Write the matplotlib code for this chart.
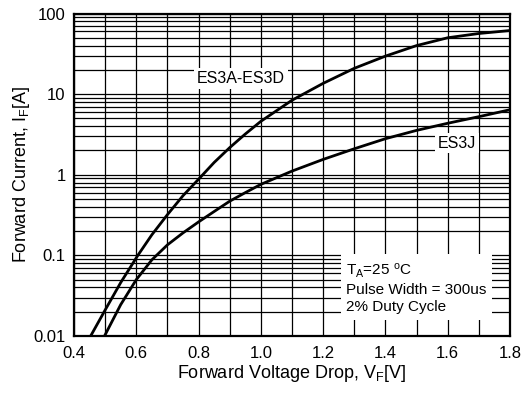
import matplotlib
matplotlib.use("Agg")
import matplotlib.pyplot as plt
import numpy as np
from matplotlib.ticker import LogLocator, FixedLocator, NullFormatter

plt.rcParams['font.family'] = ['Liberation Sans', 'DejaVu Sans']
plt.rcParams['mathtext.fontset'] = 'custom'
plt.rcParams['mathtext.rm'] = 'Liberation Sans'
plt.rcParams['mathtext.it'] = 'Liberation Sans'

# Data
vf_a = [0.4535, 0.5, 0.55, 0.605, 0.65, 0.7, 0.75, 0.8, 0.85, 0.9,
        0.95, 1.0, 1.1, 1.2, 1.3, 1.4, 1.5, 1.6, 1.7, 1.8]
if_a = [0.01, 0.021, 0.046, 0.1, 0.18, 0.32, 0.55, 0.88, 1.42, 2.17,
        3.2, 4.6, 8.4, 13.6, 20.9, 29.6, 40.0, 50.0, 56.5, 61.5]
vf_j = [0.498, 0.55, 0.6, 0.65, 0.7, 0.75, 0.8, 0.85, 0.9, 0.95, 1.0,
        1.1, 1.2, 1.3, 1.4, 1.5, 1.6, 1.7, 1.8]
if_j = [0.01, 0.0245, 0.05, 0.088, 0.135, 0.19, 0.26, 0.35, 0.47, 0.6, 0.76,
        1.11, 1.55, 2.1, 2.8, 3.55, 4.35, 5.25, 6.4]
xticks = [0.4, 0.6, 0.8, 1.0, 1.2, 1.4, 1.6, 1.8]
xtick_labels = ['0.4', '0.6', '0.8', '1.0', '1.2', '1.4', '1.6', '1.8']
yticks = [0.01, 0.1, 1, 10, 100]
ytick_labels = ['0.01', '0.1', '1', '10', '100']

fig = plt.figure(figsize=(5.26, 3.96), dpi=100)
ax = fig.add_axes([74/526, 1 - 336/396, (510-74)/526, (336-13.5)/396])

ax.set_yscale('log')
ax.set_xlim(0.4, 1.8)
ax.set_ylim(0.01, 100)

ax.set_xticks(xticks)
ax.set_xticklabels(xtick_labels)
ax.xaxis.set_minor_locator(FixedLocator(np.arange(0.5, 1.8, 0.2)))
ax.set_yticks(yticks)
ax.set_yticklabels(ytick_labels)
ax.yaxis.set_minor_locator(LogLocator(base=10, subs=np.arange(2, 10)))
ax.yaxis.set_minor_formatter(NullFormatter())

ax.grid(True, which='both', color='black', linewidth=0.9)
ax.tick_params(which='both', length=0, labelsize=12)
ax.tick_params(axis='x', pad=7)
ax.tick_params(axis='y', pad=6)
for s in ax.spines.values():
    s.set_linewidth(1.6)

ax.plot(vf_a, if_a, color='black', linewidth=2, zorder=3, solid_joinstyle='round')
ax.plot(vf_j, if_j, color='black', linewidth=2, zorder=3, solid_joinstyle='round')

ax.text(0.936, 15.7, 'ES3A-ES3D', fontsize=11.5, ha='center', va='center', zorder=4,
        bbox=dict(facecolor='white', edgecolor='none', pad=2))
ax.text(1.629, 2.46, 'ES3J', fontsize=11.5, ha='center', va='center', zorder=4,
        bbox=dict(facecolor='white', edgecolor='none', pad=2))
ax.text(1.2735, 0.0395, 'T$_\\mathregular{A}$=25 $^\\mathregular{o}$C\nPulse Width = 300us\n2% Duty Cycle',
        fontsize=11, ha='left', va='center', linespacing=1.3, zorder=4,
        bbox=dict(facecolor='white', edgecolor='none', pad=4))

ax.set_xlabel('Forward Voltage Drop, V$_\\mathregular{F}$[V]', fontsize=13, labelpad=2)
ax.set_ylabel('Forward Current, I$_\\mathregular{F}$[A]', fontsize=13, labelpad=1)

fig.savefig('out.png', dpi=100)
